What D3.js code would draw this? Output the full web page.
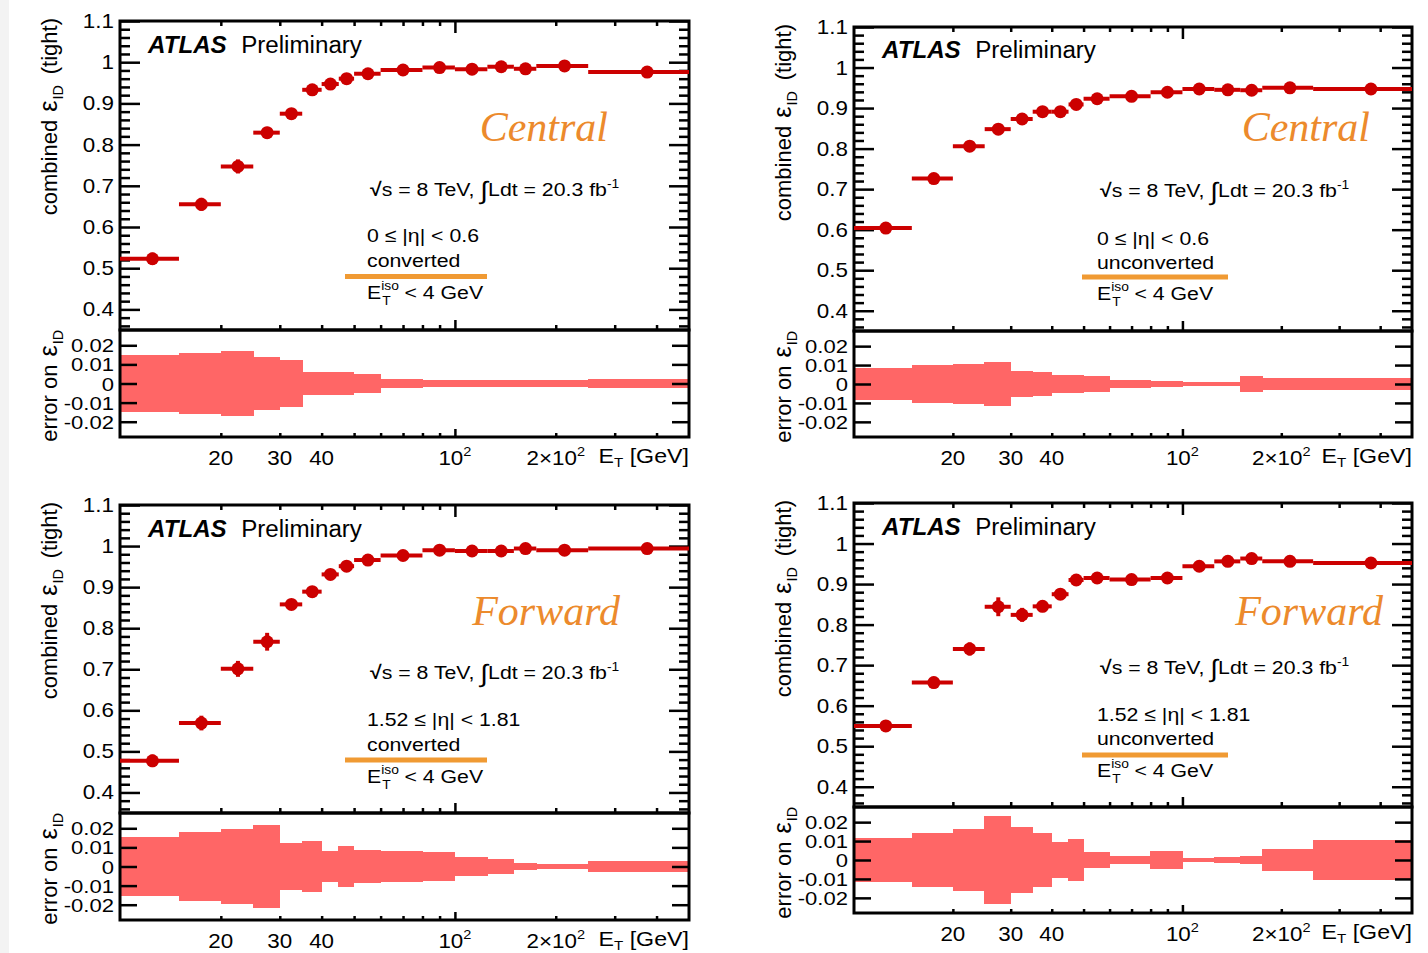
<!DOCTYPE html>
<html>
<head>
<meta charset="utf-8">
<script src="https://cdn.jsdelivr.net/npm/d3@7"></script>
<style>
  body { margin: 0; background: #fff; }
  svg { display: block; }
  text { font-family: "Liberation Sans", Arial, Helvetica, sans-serif; fill: #000; white-space: pre; }
  .serif { font-family: "Liberation Serif", "Times New Roman", serif; font-style: italic; }
</style>
</head>
<body>
<svg id="chart" width="1428" height="953"></svg>
<script>
// E_T bin edges [GeV], shared by all four plots
const etEdges = [10, 15, 20, 25, 30, 35, 40, 45, 50, 60, 80, 100, 125, 150, 175, 250, 500];

// combined eps_ID (tight) per bin, and its error (lower pad + vertical bars)
const effCentralConv   = [0.523, 0.655, 0.747, 0.829, 0.875, 0.933, 0.947, 0.960, 0.972, 0.981, 0.987, 0.983, 0.989, 0.984, 0.991, 0.976];
const errCentralConv   = [0.0147, 0.0158, 0.0171, 0.014, 0.0124, 0.0058, 0.0058, 0.006, 0.005, 0.0023, 0.0016, 0.0016, 0.0016, 0.0016, 0.0016, 0.0021];

const effCentralUnconv = [0.604, 0.726, 0.806, 0.848, 0.873, 0.891, 0.891, 0.909, 0.923, 0.929, 0.939, 0.947, 0.945, 0.944, 0.950, 0.947];
const errCentralUnconv = [0.0085, 0.010, 0.0108, 0.0115, 0.007, 0.0063, 0.0045, 0.0046, 0.0042, 0.0021, 0.0014, 0.0008, 0.0008, 0.0041, 0.0034, 0.003];

const effForwardConv   = [0.477, 0.569, 0.701, 0.767, 0.858, 0.889, 0.931, 0.951, 0.966, 0.977, 0.990, 0.988, 0.988, 0.994, 0.990, 0.994];
const errForwardConv   = [0.0152, 0.0179, 0.0194, 0.0217, 0.0125, 0.0134, 0.0083, 0.0108, 0.0088, 0.0083, 0.0077, 0.0052, 0.0039, 0.002, 0.0015, 0.0028];

const effForwardUnconv = [0.550, 0.657, 0.740, 0.844, 0.824, 0.845, 0.875, 0.910, 0.915, 0.911, 0.915, 0.944, 0.956, 0.963, 0.956, 0.952];
const errForwardUnconv = [0.0117, 0.0142, 0.0163, 0.0233, 0.0173, 0.0142, 0.0097, 0.0112, 0.0043, 0.002, 0.0046, 0.0012, 0.0016, 0.0019, 0.0058, 0.0104];

// axis ticks
const yMajorMain = [0.4, 0.5, 0.6, 0.7, 0.8, 0.9, 1.0, 1.1];
const yMinorMain = d3.range(0.36, 1.1, 0.02).map(v => +v.toFixed(2)).filter(v => !yMajorMain.some(m => Math.abs(m - v) < 1e-6));
const yTicksErr = [-0.02, -0.01, 0, 0.01, 0.02];
const xMajor = [100];
const xMinor = [20, 30, 40, 50, 60, 70, 80, 90, 200, 300, 400];
// x labels: [value, base, exponent]
const xLabels = [[20, '20', ''], [30, '30', ''], [40, '40', ''], [100, '10', '2'], [200, '2\u00d710', '2']];

const RED = '#cc0000';
const BAND = '#ff6666';
const ORANGE = '#ec8a2c';
const ORANGE_LINE = '#f09a33';
const SX = 1.12; // text in the picture is a bit wider than the font

const panels = [
  { eff: effCentralConv, err: errCentralConv, region: 'Central', eta: '0 \u2264 |\u03b7| < 0.6', conv: 'converted',
    box: { left: 120, right: 689, top: 21, mid: 330, bottom: 437 },
    atlas: [148, 53], regionPos: [608, 141], lumi: [370, 196], etaPos: [367, 242], convY: 267, line: [345, 487, 276.5], isoY: 299 },
  { eff: effCentralUnconv, err: errCentralUnconv, region: 'Central', eta: '0 \u2264 |\u03b7| < 0.6', conv: 'unconverted',
    box: { left: 854, right: 1412, top: 27, mid: 331, bottom: 437 },
    atlas: [882, 58], regionPos: [1370, 141], lumi: [1100, 197], etaPos: [1097, 245], convY: 269, line: [1082, 1228, 277], isoY: 300 },
  { eff: effForwardConv, err: errForwardConv, region: 'Forward', eta: '1.52 \u2264 |\u03b7| < 1.81', conv: 'converted',
    box: { left: 120, right: 689, top: 505, mid: 813, bottom: 920 },
    atlas: [148, 537], regionPos: [620, 625], lumi: [370, 679], etaPos: [367, 726], convY: 751, line: [345, 487, 760], isoY: 783 },
  { eff: effForwardUnconv, err: errForwardUnconv, region: 'Forward', eta: '1.52 \u2264 |\u03b7| < 1.81', conv: 'unconverted',
    box: { left: 854, right: 1412, top: 503, mid: 807, bottom: 913 },
    atlas: [882, 535], regionPos: [1383, 625], lumi: [1100, 674], etaPos: [1097, 721], convY: 745, line: [1082, 1228, 755], isoY: 777 }
];

const svg = d3.select('#chart');
svg.append('rect').attr('x', 0).attr('y', 0).attr('width', 9).attr('height', 953).attr('fill', '#f3f3f3');

// text made of pieces: {t, size (rel), dy (px, rel. baseline), dx, stack:[sup,sub]}
function rich(parent, parts, x, y, fs, anchor, rotate, sx) {
  sx = sx || (rotate ? 1 : SX);
  const outer = parent.append('g').attr('transform', `translate(${x},${y})` + (rotate ? ' rotate(-90)' : ''));
  const g = outer.append('g');
  let cx = 0;
  parts.forEach(p => {
    cx += (p.dx || 0);
    if (p.stack) {
      const a = g.append('text').attr('x', cx).attr('y', -fs * 0.45).attr('font-size', fs * 0.65).text(p.stack[0]);
      const b = g.append('text').attr('x', cx + 1).attr('y', fs * 0.3).attr('font-size', fs * 0.65).text(p.stack[1]);
      cx += Math.max(a.node().getComputedTextLength(), b.node().getComputedTextLength() + 1);
    } else {
      const t = g.append('text').attr('x', cx).attr('y', p.dy || 0).attr('font-size', fs * (p.size || 1)).text(p.t);
      if (p.bold) t.attr('font-weight', 'bold');
      if (p.italic) t.attr('font-style', 'italic');
      cx += t.node().getComputedTextLength();
    }
  });
  let shift = 0;
  if (anchor === 'end') shift = -cx * sx;
  if (anchor === 'middle') shift = -cx * sx / 2;
  g.attr('transform', `translate(${shift},0) scale(${sx},1)`);
  return outer;
}

panels.forEach(p => {
  const b = p.box;
  const g = svg.append('g');

  const x = d3.scaleLog().domain([10, 500]).range([b.left, b.right]);
  const y = d3.scaleLinear().domain([0.35, 1.1]).range([b.mid, b.top]);
  const ye = d3.scaleLinear().domain([-0.028, 0.028]).range([b.bottom, b.mid]);

  const bins = p.eff.map((v, i) => ({ lo: etEdges[i], hi: etEdges[i + 1], eff: v, err: p.err[i] }));

  // error band in lower pad
  g.append('g').selectAll('rect').data(bins).enter().append('rect')
    .attr('x', d => x(d.lo) - 0.3)
    .attr('width', d => x(d.hi) - x(d.lo) + 0.6)
    .attr('y', d => ye(d.err))
    .attr('height', d => ye(-d.err) - ye(d.err))
    .attr('fill', BAND)
    .attr('shape-rendering', 'crispEdges');

  // axes (ticks only, inward)
  const tickStyle = sel => {
    sel.select('.domain').remove();
    sel.selectAll('line').attr('stroke', '#000').attr('stroke-width', 2.5);
    sel.selectAll('text').remove();
  };
  g.append('g').attr('transform', `translate(${b.left},0)`)
    .call(d3.axisLeft(y).tickValues(yMajorMain).tickSizeInner(-20).tickSizeOuter(0)).call(tickStyle);
  g.append('g').attr('transform', `translate(${b.left},0)`)
    .call(d3.axisLeft(y).tickValues(yMinorMain).tickSizeInner(-10).tickSizeOuter(0)).call(tickStyle);
  g.append('g').attr('transform', `translate(${b.right},0)`)
    .call(d3.axisRight(y).tickValues(yMajorMain).tickSizeInner(-20).tickSizeOuter(0)).call(tickStyle);
  g.append('g').attr('transform', `translate(${b.right},0)`)
    .call(d3.axisRight(y).tickValues(yMinorMain).tickSizeInner(-10).tickSizeOuter(0)).call(tickStyle);
  g.append('g').attr('transform', `translate(${b.left},0)`)
    .call(d3.axisLeft(ye).tickValues(yTicksErr).tickSizeInner(-17).tickSizeOuter(0)).call(tickStyle);
  g.append('g').attr('transform', `translate(${b.right},0)`)
    .call(d3.axisRight(ye).tickValues(yTicksErr).tickSizeInner(-17).tickSizeOuter(0)).call(tickStyle);

  g.append('g').attr('transform', `translate(0,${b.top})`)
    .call(d3.axisTop(x).tickValues(xMajor).tickSizeInner(-12).tickSizeOuter(0)).call(tickStyle);
  g.append('g').attr('transform', `translate(0,${b.top})`)
    .call(d3.axisTop(x).tickValues(xMinor).tickSizeInner(-5).tickSizeOuter(0)).call(tickStyle);
  g.append('g').attr('transform', `translate(0,${b.mid})`)
    .call(d3.axisBottom(x).tickValues(xMajor).tickSizeInner(-10).tickSizeOuter(0)).call(tickStyle);
  g.append('g').attr('transform', `translate(0,${b.mid})`)
    .call(d3.axisBottom(x).tickValues(xMinor).tickSizeInner(-5).tickSizeOuter(0)).call(tickStyle);
  g.append('g').attr('transform', `translate(0,${b.bottom})`)
    .call(d3.axisBottom(x).tickValues(xMajor).tickSizeInner(-8).tickSizeOuter(0)).call(tickStyle);
  g.append('g').attr('transform', `translate(0,${b.bottom})`)
    .call(d3.axisBottom(x).tickValues(xMinor).tickSizeInner(-4).tickSizeOuter(0)).call(tickStyle);

  // frames
  g.append('rect').attr('x', b.left).attr('y', b.top).attr('width', b.right - b.left).attr('height', b.mid - b.top)
    .attr('fill', 'none').attr('stroke', '#000').attr('stroke-width', 3);
  g.append('rect').attr('x', b.left).attr('y', b.mid).attr('width', b.right - b.left).attr('height', b.bottom - b.mid)
    .attr('fill', 'none').attr('stroke', '#000').attr('stroke-width', 3);

  // tick labels
  const fs = 20;
  yMajorMain.forEach(v => {
    rich(g, [{ t: String(+v.toFixed(1)) }], b.left - 6, y(v) + 7, fs, 'end');
  });
  yTicksErr.forEach(v => {
    rich(g, [{ t: v === 0 ? '0' : d3.format('.2f')(v).replace('\u2212', '-') }], b.left - 6, ye(v) + 7, 19, 'end', false, 1.16);
  });
  xLabels.forEach(([v, base, ex]) => {
    const parts = [{ t: base }];
    if (ex) parts.push({ t: ex, size: 0.65, dy: -9 });
    rich(g, parts, x(v), b.bottom + 28, fs, 'middle');
  });
  rich(g, [{ t: 'E' }, { t: 'T', size: 0.65, dy: 4 }, { t: ' [GeV]' }], b.right, b.bottom + 25.5, fs, 'end', false, 1.16);

  // y titles
  rich(g, [{ t: 'combined' }, { t: '\u03b5', dx: 8, size: 1.15 }, { t: 'ID', size: 0.65, dy: 6, dx: 1 }, { t: '(tight)', dx: 11 }],
    b.left - 63, b.top - 3, 22, 'end', true);
  rich(g, [{ t: 'error on' }, { t: '\u03b5', dx: 8, size: 1.15 }, { t: 'ID', size: 0.65, dy: 6, dx: 1 }],
    b.left - 63, b.mid, 22, 'end', true);

  // data: horizontal bars, vertical error bars, markers
  const pts = g.append('g');
  pts.selectAll('line.h').data(bins).enter().append('line')
    .attr('x1', d => x(d.lo)).attr('x2', d => x(d.hi))
    .attr('y1', d => y(d.eff)).attr('y2', d => y(d.eff))
    .attr('stroke', RED).attr('stroke-width', 4);
  pts.selectAll('line.v').data(bins).enter().append('line')
    .attr('x1', d => x((d.lo + d.hi) / 2)).attr('x2', d => x((d.lo + d.hi) / 2))
    .attr('y1', d => y(d.eff - d.err)).attr('y2', d => y(d.eff + d.err))
    .attr('stroke', RED).attr('stroke-width', 4);
  pts.selectAll('circle').data(bins).enter().append('circle')
    .attr('cx', d => x((d.lo + d.hi) / 2)).attr('cy', d => y(d.eff))
    .attr('r', 6.5).attr('fill', RED);

  // labels
  rich(g, [{ t: 'ATLAS', bold: true, italic: true }, { t: '  Preliminary', dx: 1 }], p.atlas[0], p.atlas[1], 23, 'start', false, 1.05);
  g.append('text').attr('class', 'serif').attr('x', p.regionPos[0]).attr('y', p.regionPos[1])
    .attr('text-anchor', 'end').attr('font-size', 42).style('fill', ORANGE).text(p.region);
  rich(g, [{ t: '\u221a', bold: true }, { t: 's = 8 TeV, ' }, { t: '\u222b', size: 1.3, dy: 3 }, { t: 'Ldt = 20.3 fb' }, { t: '-1', size: 0.65, dy: -8 }],
    p.lumi[0], p.lumi[1], 19, 'start');
  rich(g, [{ t: p.eta }], p.etaPos[0], p.etaPos[1], 19, 'start');
  rich(g, [{ t: p.conv }], p.etaPos[0], p.convY, 19, 'start');
  g.append('line').attr('x1', p.line[0]).attr('x2', p.line[1]).attr('y1', p.line[2]).attr('y2', p.line[2])
    .attr('stroke', ORANGE_LINE).attr('stroke-width', 5);
  rich(g, [{ t: 'E' }, { stack: ['iso', 'T'] }, { t: '< 4 GeV', dx: 5 }], p.etaPos[0], p.isoY, 19, 'start');
});
</script>
</body>
</html>
